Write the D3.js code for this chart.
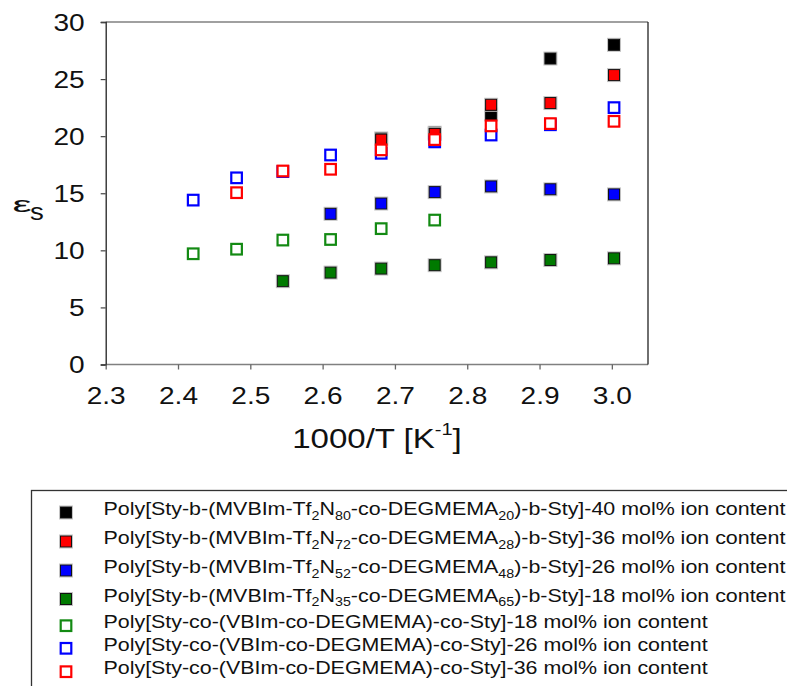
<!DOCTYPE html>
<html>
<head>
<meta charset="utf-8">
<script src="https://cdn.jsdelivr.net/npm/d3@7"></script>
<style>
  body { margin: 0; background: #fff; }
  svg { display: block; }
  text { font-family: "Liberation Sans", Arial, sans-serif; fill: #111; }
</style>
</head>
<body>
<svg id="chart" width="787" height="686"></svg>
<script>
// Axis ticks
const xTicks = [2.3, 2.4, 2.5, 2.6, 2.7, 2.8, 2.9, 3.0];
const yTicks = [0, 5, 10, 15, 20, 25, 30];

// Static dielectric constant vs. 1000/T
// Block copolymers Poly[Sty-b-(MVBIm-Tf2N-co-DEGMEMA)-b-Sty]
const blk40X = [2.681, 2.755, 2.833, 2.915, 3.003];
const blk40Y = [19.8, 20.3, 21.9, 26.8, 28.0];
const blk36X = [2.681, 2.755, 2.833, 2.915, 3.003];
const blk36Y = [19.7, 20.2, 22.75, 22.9, 25.35];
const blk26X = [2.611, 2.681, 2.755, 2.833, 2.915, 3.003];
const blk26Y = [13.2, 14.1, 15.1, 15.6, 15.35, 14.9];
const blk18X = [2.545, 2.611, 2.681, 2.755, 2.833, 2.915, 3.003];
const blk18Y = [7.3, 8.05, 8.4, 8.7, 8.95, 9.15, 9.3];
// Random copolymers Poly[Sty-co-(VBIm-co-DEGMEMA)-co-Sty]
const ran18X = [2.421, 2.481, 2.545, 2.611, 2.681, 2.755];
const ran18Y = [9.7, 10.1, 10.9, 10.95, 11.9, 12.65];
const ran26X = [2.421, 2.481, 2.545, 2.611, 2.681, 2.755, 2.833, 2.915, 3.003];
const ran26Y = [14.4, 16.35, 16.9, 18.35, 18.5, 19.5, 20.1, 21.0, 22.5];
const ran36X = [2.481, 2.545, 2.611, 2.681, 2.755, 2.833, 2.915, 3.003];
const ran36Y = [15.05, 16.95, 17.1, 18.8, 19.7, 20.9, 21.1, 21.3];

// Legend labels ("_nn" marks a subscript)
const seriesLabels = [
  "Poly[Sty-b-(MVBIm-Tf_2N_80-co-DEGMEMA_20)-b-Sty]-40 mol% ion content",
  "Poly[Sty-b-(MVBIm-Tf_2N_72-co-DEGMEMA_28)-b-Sty]-36 mol% ion content",
  "Poly[Sty-b-(MVBIm-Tf_2N_52-co-DEGMEMA_48)-b-Sty]-26 mol% ion content",
  "Poly[Sty-b-(MVBIm-Tf_2N_35-co-DEGMEMA_65)-b-Sty]-18 mol% ion content",
  "Poly[Sty-co-(VBIm-co-DEGMEMA)-co-Sty]-18 mol% ion content",
  "Poly[Sty-co-(VBIm-co-DEGMEMA)-co-Sty]-26 mol% ion content",
  "Poly[Sty-co-(VBIm-co-DEGMEMA)-co-Sty]-36 mol% ion content"
];

const seriesX = [blk40X, blk36X, blk26X, blk18X, ran18X, ran26X, ran36X];
const seriesY = [blk40Y, blk36Y, blk26Y, blk18Y, ran18Y, ran26Y, ran36Y];
const colors = ["#000000", "#ff0000", "#0000ff", "#007a00", "#138a13", "#0000ff", "#ff0000"];
const filled = [true, true, true, true, false, false, false];

const SX = 1.17; // horizontal text stretch
const svg = d3.select("#chart");

const plotL = 105.7, plotR = 648, plotT = 22, plotB = 364.5;
const x = d3.scaleLinear().domain([2.3, 3.05]).range([plotL, plotR]);
const y = d3.scaleLinear().domain([0, 30]).range([plotB, plotT]);

// Frame: grey top/bottom, dark left/right
svg.append("line").attr("x1", plotL).attr("x2", plotR).attr("y1", plotT).attr("y2", plotT)
  .attr("stroke", "#808080").attr("stroke-width", 1.4);
svg.append("line").attr("x1", plotL).attr("x2", plotR).attr("y1", plotB).attr("y2", plotB)
  .attr("stroke", "#808080").attr("stroke-width", 1.4);
svg.append("line").attr("x1", plotR).attr("x2", plotR).attr("y1", plotT).attr("y2", plotB)
  .attr("stroke", "#222").attr("stroke-width", 1.3);

// Y axis
const gy = svg.append("g").attr("transform", `translate(${plotL},0)`)
  .call(d3.axisLeft(y).tickValues(yTicks).tickSize(5).tickFormat(d3.format("d")));
gy.select(".domain").attr("stroke", "#222").attr("stroke-width", 1.3);
gy.selectAll(".tick line").attr("stroke", "#444").attr("stroke-width", 1.2);
gy.selectAll(".tick text")
  .attr("x", null).attr("dy", "0.35em")
  .attr("transform", `translate(-21,0) scale(${SX},1)`)
  .style("font-size", "24px").style("font-family", "'Liberation Sans', Arial, sans-serif")
  .attr("fill", "#111");

// X axis
const gx = svg.append("g").attr("transform", `translate(0,${plotB})`)
  .call(d3.axisBottom(x).tickValues(xTicks).tickSize(5).tickFormat(d3.format(".1f")));
gx.select(".domain").remove();
gx.selectAll(".tick line").attr("stroke", "#666").attr("stroke-width", 1.3);
gx.selectAll(".tick text")
  .attr("y", null).attr("dy", null)
  .attr("transform", `translate(0,${404 - plotB}) scale(${SX},1)`)
  .style("font-size", "24px").style("font-family", "'Liberation Sans', Arial, sans-serif")
  .attr("fill", "#111");

// Axis titles
const xt = svg.append("text")
  .attr("transform", `translate(377,448) scale(1.18,1)`)
  .attr("text-anchor", "middle").style("font-size", "28px");
xt.append("tspan").text("1000/T [K");
xt.append("tspan").attr("dy", -13).style("font-size", "17px").text("-1");
xt.append("tspan").attr("dy", 13).text("]");

svg.append("text").attr("transform", "translate(22,212) scale(1.95,1)")
  .attr("text-anchor", "middle").style("font-size", "22px").text("ε");
svg.append("text").attr("transform", "translate(37,219.5) scale(1.2,1)")
  .attr("text-anchor", "middle").style("font-size", "23px").text("s");

// Markers
function drawMarker(g, cx, cy, color, isFilled) {
  if (isFilled) {
    g.append("rect").attr("x", cx - 6.5).attr("y", cy - 6.5).attr("width", 13).attr("height", 13)
      .attr("fill", "none").attr("stroke", "#c4c4c4").attr("stroke-width", 1);
    g.append("rect").attr("x", cx - 5.5).attr("y", cy - 5.5).attr("width", 11).attr("height", 11)
      .attr("fill", color).attr("stroke", "#111").attr("stroke-width", 1);
  } else {
    g.append("rect").attr("x", cx - 5.3).attr("y", cy - 5.3).attr("width", 10.6).attr("height", 10.6)
      .attr("fill", "#fff").attr("stroke", color).attr("stroke-width", 2.2);
  }
}

const gm = svg.append("g");
seriesX.forEach((xs, i) => {
  const g = gm.append("g");
  xs.forEach((xv, j) => drawMarker(g, x(xv), y(seriesY[i][j]), colors[i], filled[i]));
});

// Legend
svg.append("rect").attr("x", 31.5).attr("y", 490.5).attr("width", 800).attr("height", 300)
  .attr("fill", "none").attr("stroke", "#333").attr("stroke-width", 1.3);
const legendY = [512.5, 541.5, 570.5, 599, 625.7, 648.3, 671.7];
seriesLabels.forEach((label, i) => {
  const g = svg.append("g");
  drawMarker(g, 66, legendY[i], colors[i], filled[i]);
  const t = g.append("text")
    .attr("transform", `translate(103.5,${legendY[i] + 2.5}) scale(1.19,1)`)
    .style("font-size", "18px");
  let sub = false;
  label.split(/(_\d+)/).filter(s => s.length).forEach(part => {
    if (part[0] === "_") {
      t.append("tspan").attr("dy", sub ? 0 : 4.5).style("font-size", "12px").text(part.slice(1));
      sub = true;
    } else {
      t.append("tspan").attr("dy", sub ? -4.5 : 0).text(part);
      sub = false;
    }
  });
});
</script>
</body>
</html>
